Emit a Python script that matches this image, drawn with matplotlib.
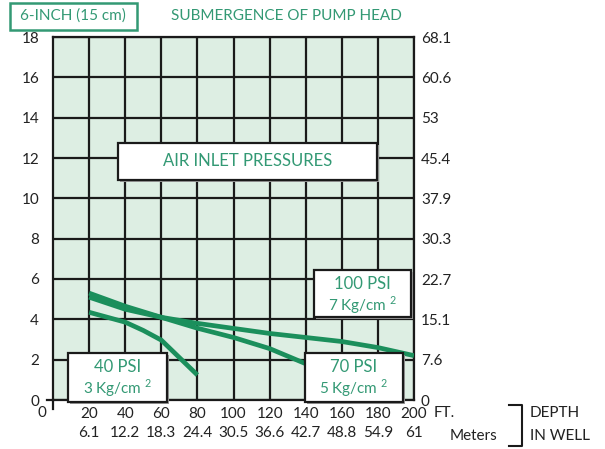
import matplotlib
matplotlib.use("Agg")
import matplotlib.pyplot as plt
from matplotlib.patches import Rectangle
from matplotlib.lines import Line2D

plt.rcParams['font.family'] = ['Lato', 'DejaVu Sans']
plt.rcParams['mathtext.fontset'] = 'custom'
plt.rcParams['mathtext.rm'] = 'Lato'

# depth in well (ft) and matching meters
depth_ft = [20, 40, 60, 80, 100, 120, 140, 160, 180, 200]
depth_m = ['6.1', '12.2', '18.3', '24.4', '30.5', '36.6', '42.7', '48.8', '54.9', '61']
# submergence ticks (left) and their right-hand equivalents
sub_ticks = [0, 2, 4, 6, 8, 10, 12, 14, 16, 18]
sub_right = ['0', '7.6', '15.1', '22.7', '30.3', '37.9', '45.4', '53', '60.6', '68.1']

# curves per air inlet pressure
psi40_ft = [20, 40, 50, 60, 80]
psi40_sub = [4.35, 3.86, 3.45, 2.97, 1.24]
psi70_ft = [20, 40, 60, 80, 100, 120, 140]
psi70_sub = [5.3, 4.65, 4.1, 3.56, 3.1, 2.55, 1.8]
psi100_ft = [20, 40, 60, 80, 100, 120, 140, 160, 180, 200]
psi100_sub = [5.1, 4.5, 4.1, 3.8, 3.55, 3.3, 3.1, 2.9, 2.6, 2.2]

W, H = 605, 449
LINE = '#1b8f5c'
TEXT = '#339974'
FILL = '#ddeee3'
INK = '#222222'
FS = 11

fig = plt.figure(figsize=(W / 100, H / 100), dpi=100)
fig.patch.set_facecolor('white')


def fx(px):
    return px / W


def fy(py):
    return 1 - py / H


ax = fig.add_axes([fx(53), fy(400), fx(414) - fx(53), fy(37) - fy(400)])
ax.set_facecolor(FILL)
ax.set_xlim(0, 200)
ax.set_ylim(0, 18)

ax.set_xticks(depth_ft, labels=[f"{f}\n{m}" for f, m in zip(depth_ft, depth_m)])
ax.set_yticks(sub_ticks)
ax.tick_params(axis='both', length=0, labelsize=FS, colors=INK)
ax.tick_params(axis='x', pad=5)
ax.tick_params(axis='y', pad=10)
plt.setp(ax.get_xticklabels(), linespacing=1.45)
ax.grid(True, color='#1a1a1a', lw=1.6)
ax.set_axisbelow(True)
for s in ax.spines.values():
    s.set_color('#1a1a1a')
    s.set_linewidth(1.6)

ax_r = ax.twinx()
ax_r.set_ylim(0, 18)
ax_r.set_yticks(sub_ticks, labels=sub_right)
ax_r.tick_params(length=0, labelsize=FS, pad=5, colors=INK)
for s in ax_r.spines.values():
    s.set_visible(False)

ax.plot(psi40_ft, psi40_sub, color=LINE, lw=3.4, solid_capstyle='butt', zorder=3)
ax.plot(psi70_ft, psi70_sub, color=LINE, lw=3.4, solid_capstyle='butt', zorder=3)
ax.plot(psi100_ft, psi100_sub, color=LINE, lw=3.4, solid_capstyle='butt', zorder=3)

# little overshoot of the axes at the origin
fig.add_artist(Line2D([fx(47), fx(53)], [fy(400), fy(400)], color='#1a1a1a', lw=1.6))
fig.add_artist(Line2D([fx(53), fx(53)], [fy(400), fy(409)], color='#1a1a1a', lw=1.6))
fig.text(fx(42), fy(413), '0', fontsize=FS, ha='center', va='center', color=INK)


def box(x0, y0, x1, y1, edge='#1a1a1a', lw=1.6):
    fig.add_artist(Rectangle((fx(x0) + 0.003, fy(y1) - 0.004), fx(x1) - fx(x0), fy(y0) - fy(y1),
                             transform=fig.transFigure, facecolor='#9a9a9a', edgecolor='none', zorder=4))
    fig.add_artist(Rectangle((fx(x0), fy(y1)), fx(x1) - fx(x0), fy(y0) - fy(y1),
                             transform=fig.transFigure, facecolor='white', edgecolor=edge, lw=lw, zorder=5))


# header
fig.add_artist(Rectangle((fx(10), fy(30)), fx(137) - fx(10), fy(3) - fy(30), transform=fig.transFigure,
                         facecolor='white', edgecolor=TEXT, lw=1.8))
fig.text(fx(73), fy(16), '6-INCH (15 cm)', fontsize=11, color=TEXT, ha='center', va='center')
fig.text(fx(286), fy(16), 'SUBMERGENCE OF PUMP HEAD', fontsize=11, color=TEXT, ha='center', va='center')

box(118, 143, 377, 180)
fig.text(fx(248), fy(161), 'AIR INLET PRESSURES', fontsize=12, color=TEXT, ha='center', va='center', zorder=6)

pressure_labels = [('40 PSI', r'3 Kg/cm $^{2}$', (68, 353, 167, 402)),
                   ('70 PSI', r'5 Kg/cm $^{2}$', (305, 353, 403, 402)),
                   ('100 PSI', r'7 Kg/cm $^{2}$', (314, 270, 411, 317))]
for top, bottom, (x0, y0, x1, y1) in pressure_labels:
    box(x0, y0, x1, y1)
    cx = (x0 + x1) / 2
    fig.text(fx(cx), fy(y0 + 14), top, fontsize=12, color=TEXT, ha='center', va='center', zorder=6)
    fig.text(fx(cx), fy(y0 + 35), bottom, fontsize=11, color=TEXT, ha='center', va='center', zorder=6)

# axis captions
fig.text(fx(434), fy(413), 'FT.', fontsize=FS, color=INK, ha='left', va='center')
fig.text(fx(497), fy(436), 'Meters', fontsize=FS, color=INK, ha='right', va='center')
fig.add_artist(Line2D([fx(509), fx(522), fx(522), fx(509)], [fy(405), fy(405), fy(446), fy(446)],
                      color='#1a1a1a', lw=1.5))
fig.text(fx(530), fy(413), 'DEPTH', fontsize=FS, color=INK, ha='left', va='center')
fig.text(fx(530), fy(436), 'IN WELL', fontsize=FS, color=INK, ha='left', va='center')

fig.savefig('out.png', dpi=100)
